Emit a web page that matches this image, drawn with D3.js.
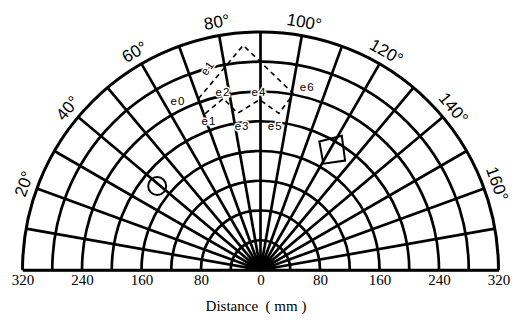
<!DOCTYPE html>
<html>
<head>
<meta charset="utf-8">
<script src="https://cdn.jsdelivr.net/npm/d3@7"></script>
<style>
  body { margin: 0; background: #fff; }
  text { fill: #000; }
</style>
</head>
<body>
<div id="chart"></div>
<script>
// distance rings (mm) and spoke angles (deg, 0 = left)
var rings = [40, 80, 120, 160, 200, 240, 280, 320];
var spokes = d3.range(0, 181, 10);
var angleLabels = [20, 40, 60, 80, 100, 120, 140, 160];
var distTicks = [-320, -240, -160, -80, 0, 80, 160, 240, 320];

// dashed trajectories: [distance mm, angle deg]
var lowerPath = [[223, 70.5], [236, 77.8], [213, 81.7], [229, 89.7], [212, 96.7], [241, 100.6]];
var roofPath = [[245, 70.1], [303, 85.6], [241, 100.6]];
// point labels: [name, distance mm, angle deg]
var pointLabels = [
  ["e0", 253, 64.0], ["e2", 245, 78.1], ["e4", 239, 89.5], ["e6", 254, 104.3],
  ["e1", 212, 70.9], ["e3", 195, 82.7], ["e5", 195, 95.8]
];
var roofLabel = ["e1", 281, 75.3];
// circle marker and quadrilateral marker
var circleMark = [179, 39.1];
var quadMark = [[190, 114.6], [211, 121.2], [186, 127.7], [166, 120.6]];

var svgWidth = 525;
var svgHeight = 322;
var cx = 260.5;
var cy = 270;
var R = 238;

var svg = d3.select("#chart")
    .append("svg")
    .attr("width", svgWidth)
    .attr("height", svgHeight);

var rScale = d3.scaleLinear().domain([0, 320]).range([0, R]);
var aScale = d3.scaleLinear().domain([0, 180]).range([0, Math.PI]);

function px(d, a) { return cx - rScale(d) * Math.cos(aScale(a)); }
function py(d, a) { return cy - rScale(d) * Math.sin(aScale(a)); }

// rings
svg.append("g")
    .selectAll("path")
    .data(rings)
    .enter()
    .append("path")
    .attr("d", function(d) {
        var p = d3.path();
        p.arc(cx, cy, rScale(d), Math.PI, 2 * Math.PI);
        return p.toString();
    })
    .attr("fill", "none")
    .attr("stroke", "#000")
    .attr("stroke-width", d => d === 320 ? 3 : 2.7);

// spokes
svg.append("g")
    .selectAll("line")
    .data(spokes)
    .enter()
    .append("line")
    .attr("x1", cx)
    .attr("y1", cy)
    .attr("x2", d => px(320, d))
    .attr("y2", d => py(320, d))
    .attr("stroke", "#000")
    .attr("stroke-width", 2.7);

// dark hub where the spokes meet
svg.append("path")
    .attr("d", function() {
        var p = d3.path();
        p.moveTo(cx - 15, cy);
        p.arc(cx, cy, 15, Math.PI, 2 * Math.PI);
        p.closePath();
        return p.toString();
    })
    .attr("fill", "#000");

// distance axis along the base
var xScale = d3.scaleLinear().domain([-320, 320]).range([cx - R, cx + R]);
var xAxis = svg.append("g")
    .attr("transform", `translate(0, ${cy})`)
    .call(d3.axisBottom(xScale).tickValues(distTicks).tickSize(0).tickPadding(4)
        .tickFormat(d => Math.abs(d)));
xAxis.select(".domain").attr("stroke", "#000").attr("stroke-width", 2.7);
xAxis.selectAll("text")
    .style("font-family", "'Liberation Serif', 'Times New Roman', serif")
    .style("font-size", "15px")
    .attr("fill", "#000");

svg.append("text")
    .attr("x", 256)
    .attr("y", 311)
    .style("text-anchor", "middle")
    .style("font-family", "'Liberation Serif', 'Times New Roman', serif")
    .style("font-size", "15px")
    .attr("xml:space", "preserve")
    .text("Distance  ( mm )");

// angle labels
svg.append("g")
    .selectAll("text")
    .data(angleLabels)
    .enter()
    .append("text")
    .attr("transform", d => `translate(${cx - 252 * Math.cos(aScale(d))}, ${cy - 252 * Math.sin(aScale(d))}) rotate(${d - 90})`)
    .attr("dy", "0.35em")
    .style("text-anchor", "middle")
    .style("font-family", "'Liberation Sans', Arial, sans-serif")
    .style("font-size", "17px")
    .text(d => d + "°");

// dashed trajectories
var line = d3.line().x(d => px(d[0], d[1])).y(d => py(d[0], d[1]));
[lowerPath, roofPath].forEach(function(pts) {
    svg.append("path")
        .attr("d", line(pts))
        .attr("fill", "none")
        .attr("stroke", "#000")
        .attr("stroke-width", 1.6)
        .attr("stroke-dasharray", "5,4");
});

// point labels (white halo hides the grid behind them)
function styleLabel(sel) {
    sel.attr("dy", "0.35em")
        .style("text-anchor", "middle")
        .style("font-family", "'Liberation Sans', Arial, sans-serif")
        .style("font-size", "11.5px")
        .style("letter-spacing", "1px")
        .style("paint-order", "stroke")
        .attr("stroke", "#fff")
        .attr("stroke-width", 3);
}

svg.append("g")
    .selectAll("text")
    .data(pointLabels)
    .enter()
    .append("text")
    .attr("x", d => px(d[1], d[2]))
    .attr("y", d => py(d[1], d[2]))
    .call(styleLabel)
    .text(d => d[0]);

svg.append("text")
    .attr("transform", `translate(${px(roofLabel[1], roofLabel[2])}, ${py(roofLabel[1], roofLabel[2])}) rotate(-55)`)
    .call(styleLabel)
    .text(roofLabel[0]);

// circle marker
svg.append("circle")
    .attr("cx", px(circleMark[0], circleMark[1]))
    .attr("cy", py(circleMark[0], circleMark[1]))
    .attr("r", 9)
    .attr("fill", "none")
    .attr("stroke", "#000")
    .attr("stroke-width", 2);

// quadrilateral marker
svg.append("path")
    .attr("d", line(quadMark) + "Z")
    .attr("fill", "none")
    .attr("stroke", "#000")
    .attr("stroke-width", 2);
</script>
</body>
</html>
